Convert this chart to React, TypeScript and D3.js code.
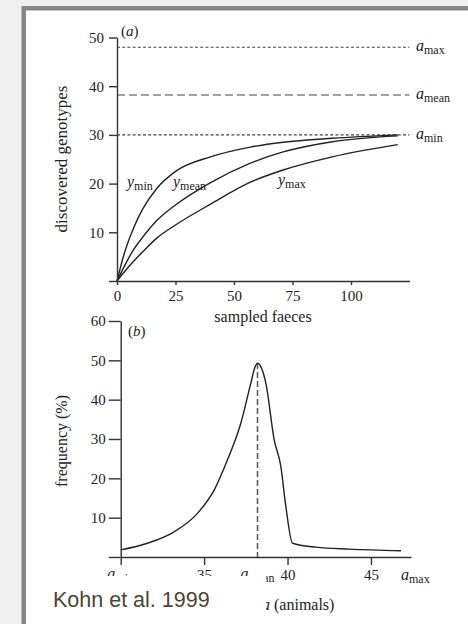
import React, { useEffect, useRef } from 'react'
import * as d3 from 'd3'

// panel (a): discovered genotypes vs sampled faeces
const sampled = [0, 3, 7, 11, 17, 25, 40, 57, 71, 92, 120]
const yMin = [0, 5.5, 10.8, 14.8, 19, 22.5, 25.5, 27.5, 28.5, 29.3, 30]
const yMean = [0, 2.9, 6.4, 9.0, 12.4, 15.6, 20.2, 24.2, 26.5, 28.6, 29.8]
const yMax = [0, 1.8, 4, 6, 8.8, 11.5, 15.8, 20.3, 22.8, 25.5, 28]
const aLevels = [
  { key: 'max', value: 48, dash: '3,2.2' },
  { key: 'mean', value: 38.2, dash: '8,4' },
  { key: 'min', value: 30, dash: '3,2.2' },
]
const xTicksA = [0, 25, 50, 75, 100]
const yTicksA = [0, 10, 20, 30, 40, 50]

// panel (b): frequency vs a (animals)
const animals = [30, 31.6, 33.2, 34.6, 35.6, 36.4, 37.2, 37.8, 38.05, 38.2, 38.4, 38.7, 39.2, 39.6, 39.9, 40.3, 41.7, 43.7, 46.8]
const freq = [1.8, 3.5, 6.4, 11.1, 17, 24.7, 34, 44.2, 48.3, 49.3, 48.4, 44.2, 29.8, 23, 12.8, 3.5, 2.5, 2, 1.6]
const aMin = 30
const aMean = 38.2
const xTicksB = [30, 35, 40, 45]
const yTicksB = [0, 10, 20, 30, 40, 50, 60]

const serif = '"Liberation Serif", "DejaVu Serif", serif'
const ink = '#222'

const Sub = ({ x, y, main, sub, anchor = 'start', size = 16 }: any) => (
  <text x={x} y={y} fontFamily={serif} fontSize={size} fill={ink} textAnchor={anchor}>
    <tspan fontStyle="italic">{main}</tspan>
    <tspan fontSize={12} dy={3}>{sub}</tspan>
  </text>
)

const App = () => {
  const axA = useRef<SVGGElement>(null)
  const ayA = useRef<SVGGElement>(null)
  const axB = useRef<SVGGElement>(null)
  const ayB = useRef<SVGGElement>(null)

  const xA = d3.scaleLinear().domain([0, 125]).range([117, 409.5])
  const yA = d3.scaleLinear().domain([0, 50]).range([281, 37.5])
  const xB = d3.scaleLinear().domain([30, 47.4]).range([120.7, 411])
  const yB = d3.scaleLinear().domain([0, 60]).range([557, 321])

  useEffect(() => {
    const style = (g: any) => {
      g.selectAll('path, line').attr('stroke', '#333').attr('stroke-width', 1.4)
      g.selectAll('text').attr('font-family', serif).attr('font-size', 15).attr('fill', ink)
    }
    d3.select(axA.current!)
      .call(d3.axisBottom(xA).tickValues(xTicksA).tickSize(4).tickPadding(5).tickSizeOuter(0).tickFormat(d3.format('d')) as any)
      .call(style)
    d3.select(ayA.current!)
      .call(d3.axisLeft(yA).tickValues(yTicksA).tickSize(8).tickPadding(5).tickSizeOuter(0)
        .tickFormat((d: any) => (d === 0 ? '' : String(d))) as any)
      .call(style)
    d3.select(axB.current!)
      .call(d3.axisBottom(xB).tickValues(xTicksB).tickSize(8).tickPadding(4).tickSizeOuter(0)
        .tickFormat((d: any) => (d === aMin ? '' : String(d))) as any)
      .call(style)
    d3.select(ayB.current!)
      .call(d3.axisLeft(yB).tickValues(yTicksB).tickSize(12).tickPadding(3).tickSizeOuter(0)
        .tickFormat((d: any) => (d === 0 ? '' : String(d))) as any)
      .call(style)
  }, [])

  const lineA = d3.line<number>().x((_, i) => xA(sampled[i])).y((d) => yA(d)).curve(d3.curveMonotoneX)
  const lineB = d3.line<number>().x((_, i) => xB(animals[i])).y((d) => yB(d)).curve(d3.curveMonotoneX)

  return (
    <div style={{ position: 'fixed', left: 0, top: 0 }}>
      <svg width={468} height={624} style={{ display: 'block' }}>
        <rect width={468} height={624} fill="#f0f0f0" />
        <rect x={21.5} y={6} width={460} height={640} fill="#878787" />
        <rect x={26} y={10.5} width={460} height={640} fill="#fff" />

        {/* panel (a) */}
        {aLevels.map((a) => (
          <line key={a.key} x1={xA(0)} x2={xA(125)} y1={yA(a.value)} y2={yA(a.value)}
            stroke="#444" strokeWidth={1.1} strokeDasharray={a.dash} />
        ))}
        {aLevels.map((a) => (
          <Sub key={a.key} x={416} y={yA(a.value) + 4} main="a" sub={a.key} />
        ))}
        {[yMin, yMean, yMax].map((s, i) => (
          <path key={i} d={lineA(s) || ''} fill="none" stroke={ink} strokeWidth={1.4} />
        ))}
        <g ref={axA} transform={`translate(0,${yA(0)})`} />
        <g ref={ayA} transform={`translate(${xA(0)},0)`} />
        <Sub x={127} y={187} main="y" sub="min" />
        <Sub x={173} y={187} main="y" sub="mean" />
        <Sub x={278} y={185} main="y" sub="max" />
        <text x={121} y={36} fontFamily={serif} fontSize={15} fill={ink}>
          (<tspan fontStyle="italic">a</tspan>)
        </text>
        <text transform="translate(67,159) rotate(-90)" textAnchor="middle" fontFamily={serif} fontSize={17} fill={ink}>
          discovered genotypes
        </text>
        <text x={263} y={322} textAnchor="middle" fontFamily={serif} fontSize={16} fill={ink}>
          sampled faeces
        </text>

        {/* panel (b) */}
        <line x1={xB(aMean)} x2={xB(aMean)} y1={yB(49.3)} y2={yB(0)} stroke="#555" strokeWidth={1.5} strokeDasharray="6,3" />
        <path d={lineB(freq) || ''} fill="none" stroke={ink} strokeWidth={1.4} />
        <g ref={axB} transform={`translate(0,${yB(0)})`} />
        <g ref={ayB} transform={`translate(${xB(aMin)},0)`} />
        <Sub x={xB(aMin)} y={579} main="a" sub="min" anchor="middle" />
        <Sub x={xB(aMean)} y={579} main="a" sub="mean" anchor="middle" />
        <Sub x={401} y={580} main="a" sub="max" />
        <text x={128} y={336} fontFamily={serif} fontSize={15} fill={ink}>
          (<tspan fontStyle="italic">b</tspan>)
        </text>
        <text transform="translate(67,441) rotate(-90)" textAnchor="middle" fontFamily={serif} fontSize={16} fill={ink}>
          frequency (%)
        </text>
        <text x={262} y={610} fontFamily={serif} fontSize={16} fill={ink}>
          <tspan fontStyle="italic">a</tspan> (animals)
        </text>

        {/* caption box covering part of the axis labels */}
        <rect x={26} y={576} width={240} height={60} fill="#fff" />
        <text x={53} y={607} fontFamily='"Liberation Sans", Arial, sans-serif' fontSize={21.5} fill="#4b4631">
          Kohn et al. 1999
        </text>
      </svg>
    </div>
  )
}

export default App
